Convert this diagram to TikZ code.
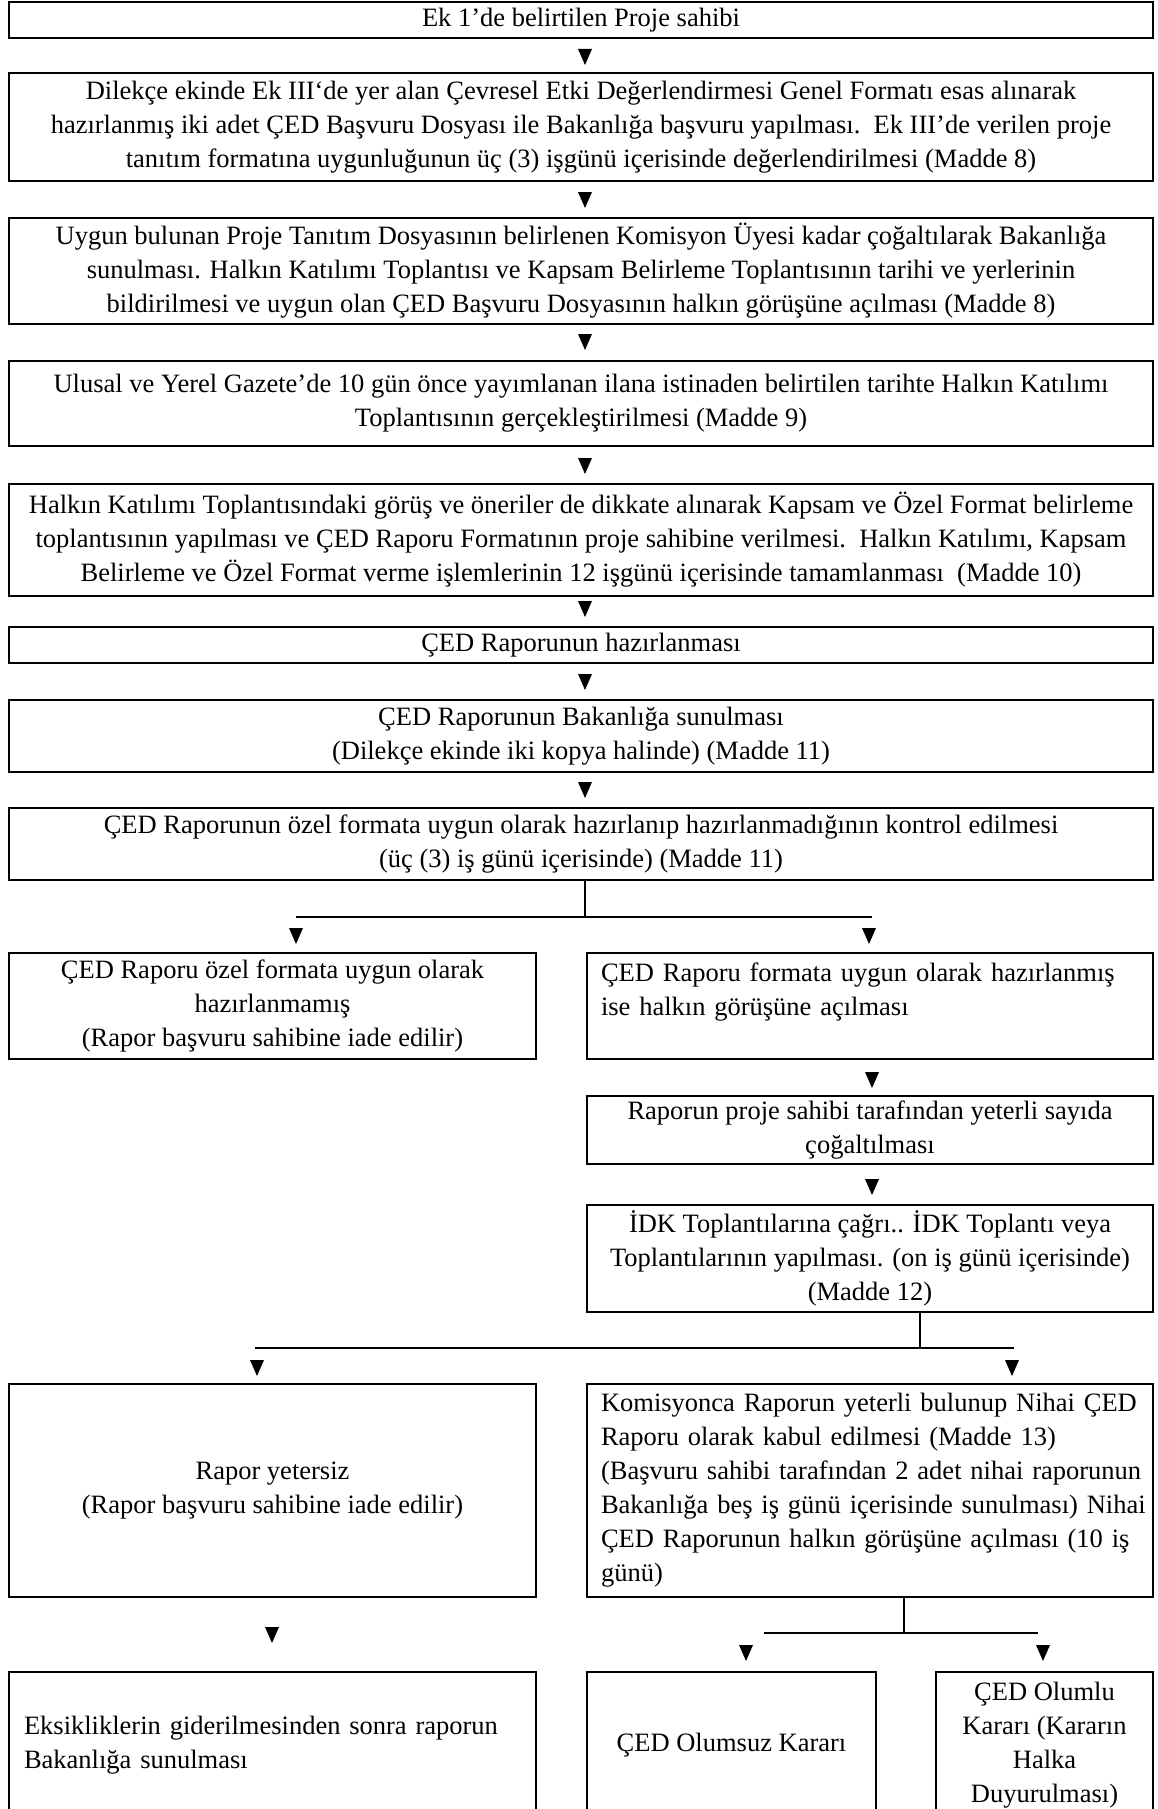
\documentclass[tikz,border=0pt]{standalone}
\usepackage{fontspec}
\setmainfont{Liberation Serif}
\newcommand\fs{\fontsize{26.5}{34}\selectfont}
\begin{document}
\begin{tikzpicture}[x=1pt,y=-1pt,
  box/.style={draw, line width=1.8pt, inner sep=0pt, outer sep=0pt, anchor=north west, align=center, font=\fs},
  conn/.style={line width=1.2pt},
  hconn/.style={line width=1.8pt},
  tri/.pic={\fill (-7,-8) -- (7,-8) -- (0,8) -- cycle;}]
\useasboundingbox (0,0) rectangle (1158,1809);

% main column
\node[box, minimum width=1144pt, minimum height=36pt] (b1) at (9,2) {Ek 1’de belirtilen Proje sahibi};
\node[box, minimum width=1144pt, minimum height=108pt] (b2) at (9,73) {Dilekçe ekinde Ek III‘de yer alan Çevresel Etki Değerlendirmesi Genel Formatı esas alınarak\\hazırlanmış iki adet ÇED Başvuru Dosyası ile Bakanlığa başvuru yapılması.\ \ Ek III’de verilen proje\\tanıtım formatına uygunluğunun üç (3) işgünü içerisinde değerlendirilmesi (Madde 8)};
\node[box, minimum width=1144pt, minimum height=106pt] (b3) at (9,218) {Uygun bulunan Proje Tanıtım Dosyasının belirlenen Komisyon Üyesi kadar çoğaltılarak Bakanlığa\\sunulması. Halkın Katılımı Toplantısı ve Kapsam Belirleme Toplantısının tarihi ve yerlerinin\\bildirilmesi ve uygun olan ÇED Başvuru Dosyasının halkın görüşüne açılması (Madde 8)};
\node[box, minimum width=1144pt, minimum height=85pt] (b4) at (9,361) {Ulusal ve Yerel Gazete’de 10 gün önce yayımlanan ilana istinaden belirtilen tarihte Halkın Katılımı\\Toplantısının gerçekleştirilmesi (Madde 9)};
\node[box, minimum width=1144pt, minimum height=112pt] (b5) at (9,484) {Halkın Katılımı Toplantısındaki görüş ve öneriler de dikkate alınarak Kapsam ve Özel Format belirleme\\toplantısının yapılması ve ÇED Raporu Formatının proje sahibine verilmesi.\ \ Halkın Katılımı, Kapsam\\Belirleme ve Özel Format verme işlemlerinin 12 işgünü içerisinde tamamlanması\ \ (Madde 10)};
\node[box, minimum width=1144pt, minimum height=36pt] (b6) at (9,627) {ÇED Raporunun hazırlanması};
\node[box, minimum width=1144pt, minimum height=72pt] (b7) at (9,700) {ÇED Raporunun Bakanlığa sunulması\\(Dilekçe ekinde iki kopya halinde) (Madde 11)};
\node[box, minimum width=1144pt, minimum height=72pt] (b8) at (9,808) {ÇED Raporunun özel formata uygun olarak hazırlanıp hazırlanmadığının kontrol edilmesi\\(üç (3) iş günü içerisinde) (Madde 11)};

% first split
\node[box, minimum width=527pt, minimum height=106pt] (b9l) at (9,953) {ÇED Raporu özel formata uygun olarak\\hazırlanmamış\\(Rapor başvuru sahibine iade edilir)};
\node[box, minimum width=566pt, minimum height=106pt, text width=538pt, align=left] (b9r) at (587,953) {\makebox[538pt][s]{ÇED Raporu formata uygun olarak hazırlanmış}\\ise halkın görüşüne açılması\\\mbox{}};
\node[box, minimum width=566pt, minimum height=68pt] (b10) at (587,1096) {Raporun proje sahibi tarafından yeterli sayıda\\çoğaltılması};
\node[box, minimum width=566pt, minimum height=107pt] (b11) at (587,1205) {İDK Toplantılarına çağrı.. İDK Toplantı veya\\Toplantılarının yapılması. (on iş günü içerisinde)\\(Madde 12)};

% second split
\node[box, minimum width=527pt, minimum height=213pt] (b12l) at (9,1384) {Rapor yetersiz\\(Rapor başvuru sahibine iade edilir)};
\node[box, minimum width=566pt, minimum height=213pt, text width=538pt, align=left] (b12r) at (587,1384) {\makebox[538pt][s]{Komisyonca Raporun yeterli bulunup Nihai ÇED}\\\makebox[538pt][s]{Raporu olarak kabul edilmesi (Madde 13)}\\\makebox[538pt][s]{(Başvuru sahibi tarafından 2 adet nihai raporunun}\\\makebox[538pt][s]{Bakanlığa beş iş günü içerisinde sunulması) Nihai}\\\makebox[538pt][s]{ÇED Raporunun halkın görüşüne açılması (10 iş}\\günü)};

% bottom row
\node[box, minimum width=527pt, minimum height=146pt, text width=497pt, align=left] (b13l) at (9,1672) {\makebox[497pt][s]{Eksikliklerin giderilmesinden sonra raporun}\\Bakanlığa sunulması};
\node[box, minimum width=289pt, minimum height=146pt] (b13m) at (587,1672) {ÇED Olumsuz Kararı};
\node[box, minimum width=217pt, minimum height=146pt] (b13r) at (936,1672) {ÇED Olumlu\\Kararı (Kararın\\Halka\\Duyurulması)};

% arrowheads of main column
\foreach \yy in {57,200,342,466,609,682,790} \pic at (585,\yy) {tri};

% split 1
\coordinate (s1) at (585,917);
\coordinate (s1l) at (296,917);
\coordinate (s1r) at (872,917);
\draw[conn] (s1 |- b8.south) -- (s1);
\draw[hconn] (s1l) -- (s1r);
\pic at (296,936) {tri};
\pic at (869,936) {tri};
\pic at (872,1080) {tri};
\pic at (872,1187) {tri};

% split 2
\coordinate (s2) at (920,1348);
\coordinate (s2l) at (255,1348);
\coordinate (s2r) at (1014,1348);
\draw[conn] (s2 |- b11.south) -- (s2);
\draw[hconn] (s2l) -- (s2r);
\pic at (257,1368) {tri};
\pic at (1012,1368) {tri};
\pic at (272,1635) {tri};

% split 3
\coordinate (s3) at (904,1633);
\coordinate (s3l) at (764,1633);
\coordinate (s3r) at (1038,1633);
\draw[conn] (s3 |- b12r.south) -- (s3);
\draw[hconn] (s3l) -- (s3r);
\pic at (746,1653) {tri};
\pic at (1043,1653) {tri};
\end{tikzpicture}
\end{document}
